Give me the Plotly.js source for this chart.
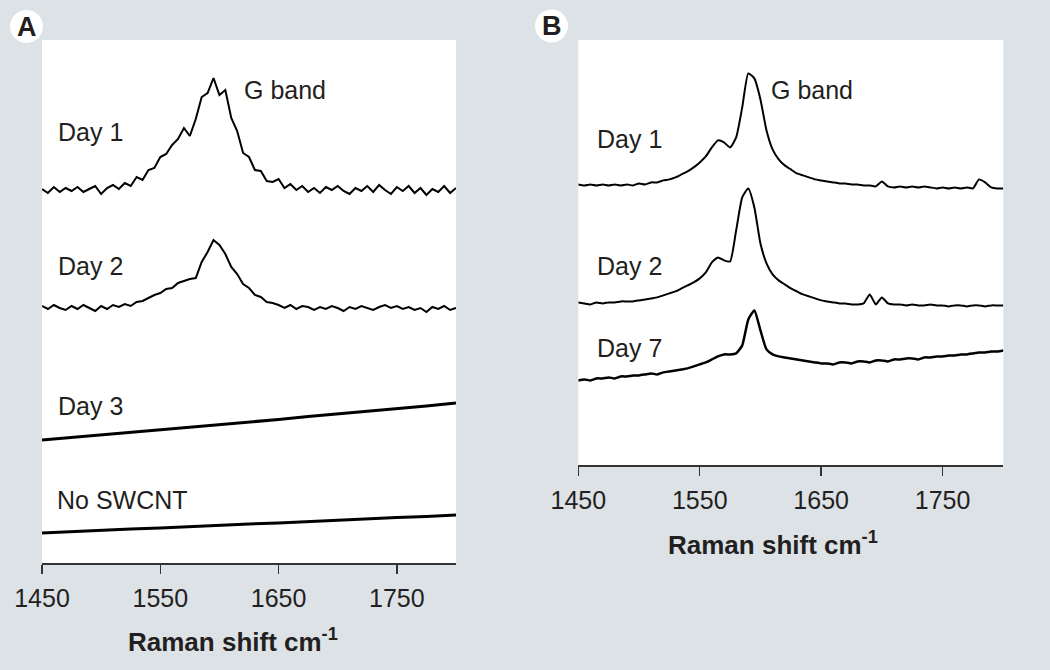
<!DOCTYPE html>
<html>
<head>
<meta charset="utf-8">
<script src="https://cdn.plot.ly/plotly-3.0.1.min.js"></script>
<style>html,body{margin:0;padding:0;background:#dde2e7;}#chart{width:1050px;height:670px;}</style>
</head>
<body>
<div id="chart"></div>
<script>
// Raman shift grid (cm-1)
const ramanShift = [
  1450,1455,1460,1465,1470,1475,1480,1485,1490,1495,
  1500,1505,1510,1515,1520,1525,1530,1535,1540,1545,
  1550,1555,1560,1565,1570,1575,1580,1585,1590,1595,
  1600,1605,1610,1615,1620,1625,1630,1635,1640,1645,
  1650,1655,1660,1665,1670,1675,1680,1685,1690,1695,
  1700,1705,1710,1715,1720,1725,1730,1735,1740,1745,
  1750,1755,1760,1765,1770,1775,1780,1785,1790,1795,
  1800];
const ramanShiftCoarse = [1450,1475,1500,1525,1550,1575,1600,1625,1650,1675,1700,1725,1750,1775,1800];

// Panel A intensities (arbitrary units, offset stacked)
const aDay1 = [
  374,370,376,371,375,372,376,371,374,377,
  369,375,378,374,380,377,386,383,393,395,
  406,409,418,424,435,427,444,466,470,485,
  468,473,445,432,410,406,393,392,382,381,
  384,375,379,373,377,371,375,370,376,373,
  377,372,369,375,372,377,371,378,373,369,
  376,372,377,370,375,368,374,371,377,370,
  375];
const aDay2 = [
  257,254,258,255,253,257,254,258,255,252,
  257,254,258,256,259,257,261,262,265,268,
  270,274,275,280,282,284,285,301,311,323,
  318,309,296,289,279,275,268,266,261,260,
  258,255,258,254,257,256,253,256,254,257,
  255,252,256,254,257,255,253,256,258,255,
  257,254,256,253,255,251,256,254,257,253,
  255];
const aDay3 = [123,125.5,128.5,130.5,133.5,136,138,141,143.5,146.5,149,151.5,154.5,157,160];
const aNoSWCNT = [30,31.5,32.5,34,35,36.5,37.5,39,40,41.5,43,44,45.5,46.5,48];

// Panel B intensities
const bDay1 = [
  281,280,281,280,281,280,281,280,281,280,
  282,281,283,283,285,286,288,291,294,298,
  303,309,318,325,323,318,328,358,392,387,
  366,335,316,306,300,296,292,290,288,286,
  285,284,283,282,282,281,281,280,280,279,
  284,279,278,279,278,279,278,279,278,277,
  278,277,278,277,278,277,286,283,278,277,
  277];
const bDay2 = [
  163,162,161,163,162,163,163,164,164,164,
  165,166,167,168,170,172,174,177,180,183,
  187,193,203,208,205,204,235,268,277,258,
  222,202,191,185,181,177,174,171,169,167,
  165,164,163,162,162,161,161,162,171,161,
  168,162,161,161,160,161,160,160,161,160,
  160,159,160,160,159,160,160,159,160,160,
  160];
const bDay7 = [
  85,86,85,87,87,88,87,89,89,90,
  90,91,92,91,93,94,95,96,97,99,
  101,103,106,109,111,111,112,120,146,155,
  135,116,111,109,108,107,106,105,104,103,
  102,102,101,103,103,102,104,104,103,105,
  105,104,106,106,107,107,106,108,108,109,
  109,110,110,111,111,112,113,113,114,114,
  115];

const tickVals = [1450,1550,1650,1750];
const tickText = ['1450','1550','1650','1750'];
const labelsA = ['Day 1','G band','Day 2','Day 3','No SWCNT'];
const labelsB = ['Day 1','G band','Day 2','Day 7'];
const axisTitle = '<b>Raman shift cm<sup>-1</sup></b>';

const W = 1050, H = 670;
const FONT = 'Liberation Sans, Arial, Helvetica, sans-serif';
const INK = '#231f20';
const px = v => v / W;
const py = v => 1 - v / H;

const lineA = {color: '#000', width: 2};
const traces = [
  {x: ramanShift, y: aDay1, xaxis: 'x', yaxis: 'y', mode: 'lines', line: lineA},
  {x: ramanShift, y: aDay2, xaxis: 'x', yaxis: 'y', mode: 'lines', line: lineA},
  {x: ramanShiftCoarse, y: aDay3, xaxis: 'x', yaxis: 'y', mode: 'lines', line: {color: '#000', width: 3}},
  {x: ramanShiftCoarse, y: aNoSWCNT, xaxis: 'x', yaxis: 'y', mode: 'lines', line: {color: '#000', width: 3}},
  {x: ramanShift, y: bDay1, xaxis: 'x2', yaxis: 'y2', mode: 'lines', line: {color: '#000', width: 2, shape: 'spline', smoothing: 0.5}},
  {x: ramanShift, y: bDay2, xaxis: 'x2', yaxis: 'y2', mode: 'lines', line: {color: '#000', width: 2, shape: 'spline', smoothing: 0.5}},
  {x: ramanShift, y: bDay7, xaxis: 'x2', yaxis: 'y2', mode: 'lines', line: {color: '#000', width: 2.5, shape: 'spline', smoothing: 0.5}}
];

const xAxisBase = {
  range: [1450, 1800], showgrid: false, zeroline: false,
  showline: true, linecolor: '#333', linewidth: 1.5,
  ticks: 'outside', ticklen: 9, tickwidth: 1.5, tickcolor: '#333',
  tickvals: tickVals, ticktext: tickText, ticklabelstandoff: 3,
  tickfont: {family: FONT, size: 25, color: INK}
};
const yAxisBase = {visible: false, showgrid: false, zeroline: false, fixedrange: true};

function lab(text, x, y, opts) {
  return Object.assign({text: text, xref: 'paper', yref: 'paper', x: px(x), y: py(y),
    xanchor: 'left', yanchor: 'middle', showarrow: false,
    font: {family: FONT, size: 25, color: INK}}, opts || {});
}

const annotations = [
  lab(labelsA[0], 56, 132), lab(labelsA[1], 242, 90), lab(labelsA[2], 56, 266),
  lab(labelsA[3], 56, 406), lab(labelsA[4], 55, 500),
  lab(labelsB[0], 595, 139), lab(labelsB[1], 769, 90), lab(labelsB[2], 595, 266),
  lab(labelsB[3], 595, 348),
  lab(axisTitle, 233, 640, {xanchor: 'center', font: {family: FONT, size: 26, color: INK}}),
  lab(axisTitle, 773, 543, {xanchor: 'center', font: {family: FONT, size: 26, color: INK}}),
  lab('<b>A</b>', 26.5, 27, {xanchor: 'center', font: {family: FONT, size: 27, color: INK}}),
  lab('<b>B</b>', 551.5, 26.5, {xanchor: 'center', font: {family: FONT, size: 27, color: INK}})
];

const shapes = [
  {type: 'circle', xref: 'paper', yref: 'paper', x0: px(10), x1: px(43), y0: py(43), y1: py(10), fillcolor: '#fff', line: {width: 0}, layer: 'below'},
  {type: 'circle', xref: 'paper', yref: 'paper', x0: px(535), x1: px(568), y0: py(42.5), y1: py(9.5), fillcolor: '#fff', line: {width: 0}, layer: 'below'}
];

const layout = {
  width: W, height: H, autosize: false,
  margin: {l: 0, r: 0, t: 0, b: 0, pad: 0},
  paper_bgcolor: '#dde2e7', plot_bgcolor: '#ffffff',
  showlegend: false,
  xaxis: Object.assign({}, xAxisBase, {domain: [px(42), px(456)], anchor: 'y'}),
  yaxis: Object.assign({}, yAxisBase, {domain: [py(563), py(40)], range: [0, 523], anchor: 'x'}),
  xaxis2: Object.assign({}, xAxisBase, {domain: [px(578.3), px(1003.3)], anchor: 'y2'}),
  yaxis2: Object.assign({}, yAxisBase, {domain: [py(465.4), py(40)], range: [0, 425.4], anchor: 'x2'}),
  annotations: annotations,
  shapes: shapes
};

Plotly.newPlot('chart', traces, layout, {displayModeBar: false, staticPlot: true});
</script>
</body>
</html>
